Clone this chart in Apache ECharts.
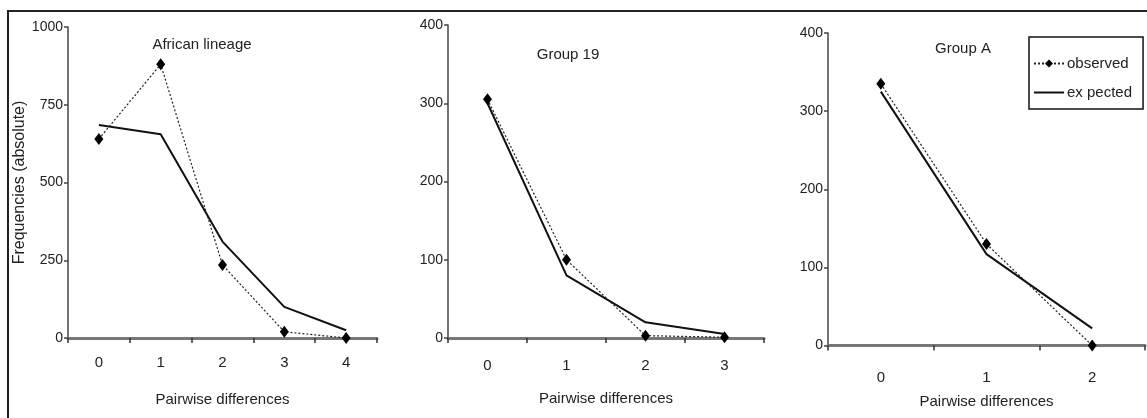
<!DOCTYPE html>
<html><head><meta charset="utf-8">
<script src="https://cdn.jsdelivr.net/npm/echarts@6/dist/echarts.min.js"></script>
<style>html,body{margin:0;padding:0;background:#fff}#c{width:1147px;height:418px}</style>
</head><body><div id="c"></div>
<script>
const catsA = ['0','1','2','3','4'];
const obsA = [640, 880, 235, 20, 0];
const expA = [685, 655, 310, 100, 25];
const cats19 = ['0','1','2','3'];
const obs19 = [305, 100, 3, 1];
const exp19 = [300, 80, 20, 5];
const catsGA = ['0','1','2'];
const obsGA = [335, 130, 0];
const expGA = [325, 117, 22];
const titles = ['African lineage', 'Group 19', 'Group A'];
const yMax = [1000, 400, 400];
const yStep = [250, 100, 100];
const seriesNames = ['observed', 'ex pected'];

const F = '"Liberation Sans",Arial,sans-serif';
const chart = echarts.init(document.getElementById('c'));
const grids = [
  {left: 68, width: 309, top: 27, bottom: 80},
  {left: 448, width: 316, top: 25, bottom: 80},
  {left: 828, width: 317, top: 33, bottom: 72.5}
];
const catsAll = [catsA, cats19, catsGA];
const obsAll = [obsA, obs19, obsGA];
const expAll = [expA, exp19, expGA];
const nameGaps = [54, 53, 49];
const labelMargins = [17, 20, 25];

const xAxis = catsAll.map((c, i) => ({
  type: 'category', gridIndex: i, data: c, boundaryGap: true,
  name: 'Pairwise differences', nameLocation: 'middle', nameGap: nameGaps[i],
  nameTextStyle: {fontFamily: F, fontSize: 15, color: '#222'},
  axisLine: {lineStyle: {color: '#777', width: 3}},
  axisTick: {show: true, inside: false, length: 5, lineStyle: {color: '#333', width: 1.5}},
  axisLabel: {fontFamily: F, fontSize: 15, color: '#222', margin: labelMargins[i]},
  splitLine: {show: false}
}));
const yAxis = yMax.map((m, i) => ({
  type: 'value', gridIndex: i, min: 0, max: m, interval: yStep[i],
  name: i === 0 ? 'Frequencies (absolute)' : '', nameLocation: 'middle', nameGap: 38,
  nameRotate: 90,
  nameTextStyle: {fontFamily: F, fontSize: 16, color: '#222'},
  axisLine: {show: true, lineStyle: {color: '#444', width: 1.5}},
  axisTick: {show: true, length: 4, lineStyle: {color: '#444', width: 1.5}},
  axisLabel: {fontFamily: F, fontSize: 14, color: '#222', margin: 5, formatter: v => String(v)},
  splitLine: {show: false}
}));

const series = [];
for (let i = 0; i < 3; i++) {
  series.push({
    name: seriesNames[1], type: 'line', xAxisIndex: i, yAxisIndex: i,
    data: expAll[i], symbol: 'none', z: 2,
    lineStyle: {color: '#111', width: 2, type: 'solid'},
    itemStyle: {color: '#111'}
  });
  series.push({
    name: seriesNames[0], type: 'line', xAxisIndex: i, yAxisIndex: i,
    data: obsAll[i], symbol: 'diamond', symbolSize: [9, 12], z: 3,
    lineStyle: {color: '#222', width: 1.2, type: [2, 2]},
    itemStyle: {color: '#000'}
  });
}

const titlePos = [[202, 45], [568, 55], [963, 49]];
const graphic = titles.map((t, i) => ({
  type: 'text', x: titlePos[i][0], y: titlePos[i][1],
  style: {text: t, fontFamily: F, fontSize: 15, fill: '#222', textAlign: 'center', textVerticalAlign: 'middle'}
}));
graphic.push({
  type: 'polyline', shape: {points: [[8, 420], [8, 11], [1147, 11]]},
  style: {stroke: '#222', lineWidth: 2, fill: null}
});

chart.setOption({
  animation: false,
  backgroundColor: '#fff',
  grid: grids,
  xAxis, yAxis, series, graphic,
  legend: {
    data: [
      {name: seriesNames[0]},
      {name: seriesNames[1], icon: 'path://M0,0 L30,0 L30,2 L0,2 Z'}
    ],
    orient: 'vertical', left: 1029, top: 37,
    borderColor: '#111', borderWidth: 1.5, borderRadius: 0,
    padding: [19, 11, 9, 4],
    itemWidth: 30, itemHeight: 10, itemGap: 14,
    textStyle: {fontFamily: F, fontSize: 15, color: '#222', padding: [0, 0, 0, -2]}
  }
});
</script></body></html>
